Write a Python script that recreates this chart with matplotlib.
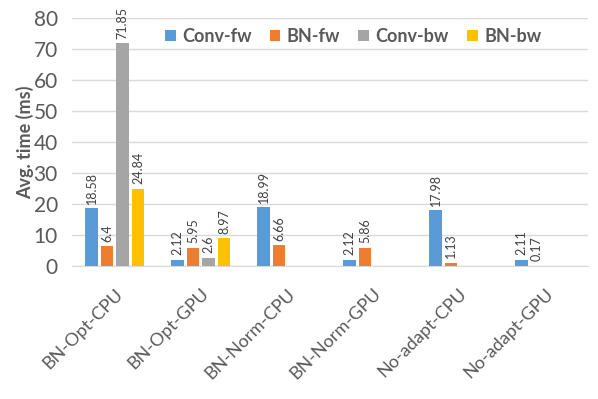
import numpy as np
import matplotlib.pyplot as plt

plt.rcParams['font.family'] = ['Lato', 'DejaVu Sans']

# data
categories = ['BN-Opt-CPU', 'BN-Opt-GPU', 'BN-Norm-CPU', 'BN-Norm-GPU', 'No-adapt-CPU', 'No-adapt-GPU']
series = ['Conv-fw', 'BN-fw', 'Conv-bw', 'BN-bw']
conv_fw = [18.58, 2.12, 18.99, 2.12, 17.98, 2.11]
bn_fw = [6.4, 5.95, 6.66, 5.86, 1.13, 0.17]
conv_bw = [71.85, 2.6, np.nan, np.nan, np.nan, np.nan]
bn_bw = [24.84, 8.97, np.nan, np.nan, np.nan, np.nan]
colors = ['#5B9BD5', '#ED7D31', '#A5A5A5', '#FFC000']

fig = plt.figure(figsize=(5.98, 3.99), dpi=100)
ax = fig.add_axes([0.12, 0.333, 0.863, 0.622])

x = np.arange(len(categories))
offsets = [-0.27, -0.09, 0.09, 0.27]
for vals, name, c, off in zip([conv_fw, bn_fw, conv_bw, bn_bw], series, colors, offsets):
    bars = ax.bar(x + off, vals, width=0.145, color=c, label=name, zorder=3)
    for b, v in zip(bars, vals):
        if np.isnan(v):
            continue
        ax.text(b.get_x() + b.get_width() / 2, v + 1.5, f'{v:g}', rotation=90,
                ha='center', va='bottom', fontsize=9, color='#404040')

ax.set_xlim(-0.5, len(categories) - 0.5)
ax.set_ylim(0, 80)
ax.set_yticks(range(0, 81, 10))
ax.set_xticks(x)
ax.set_xticklabels(categories, rotation=45, ha='right', rotation_mode='anchor',
                   fontsize=13, color='#595959')
ax.tick_params(axis='y', labelsize=15, colors='#595959', length=0, pad=10)
ax.tick_params(axis='x', length=0, pad=14)
ax.grid(axis='y', color='#D9D9D9', linewidth=1, zorder=0)
for s in ['top', 'right', 'left']:
    ax.spines[s].set_visible(False)
ax.spines['bottom'].set_color('#D9D9D9')
ax.set_ylabel('Avg. time (ms)', fontsize=13, fontweight='bold', color='#595959', labelpad=0)

leg = ax.legend(loc='upper center', bbox_to_anchor=(0.545, 1.025), ncol=4, frameon=False,
                handlelength=0.6, handleheight=0.6, handletextpad=0.35, columnspacing=1.0,
                prop={'size': 13, 'weight': 'bold'})
for t in leg.get_texts():
    t.set_color('#595959')

fig.savefig('out.png', dpi=100)
